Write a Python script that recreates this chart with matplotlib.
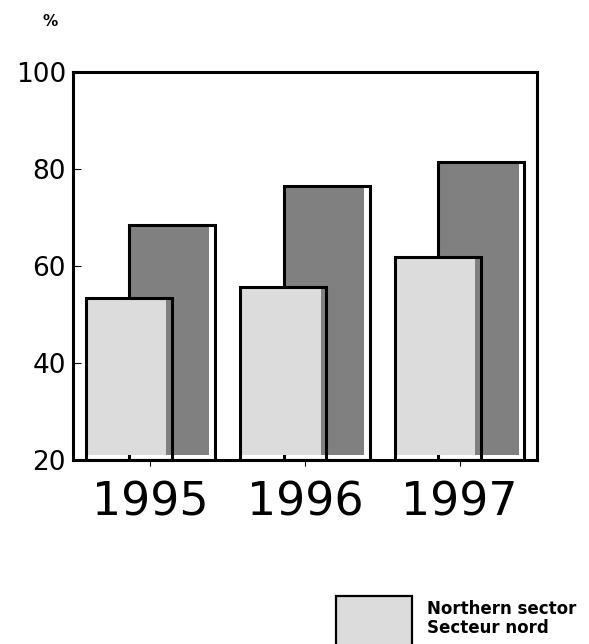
import matplotlib
matplotlib.use("Agg")
import matplotlib.pyplot as plt
from matplotlib.patches import Rectangle

# data
years = ["1995", "1996", "1997"]
northern = [53.4, 55.6, 61.9]   # light bars (front)
other = [68.4, 76.5, 81.4]      # dark bars (back)
y_ticks = [20, 40, 60, 80, 100]

light = "#dcdcdc"
dark = "#808080"

fig = plt.figure(figsize=(5.89, 6.44), dpi=100)
ax = fig.add_axes([73 / 589, 1 - 460 / 644, 464 / 589, 388 / 644])

width = 0.556
offset = 0.14
inset_x = 0.036
inset_y = 1.05
base = 20
centers = [i + 0.5 for i in range(len(years))]


def draw_bars(xs, vals, color, z):
    lefts = [x - width / 2 for x in xs]
    # fill, pulled in from the right and bottom
    ax.bar(lefts, [v - base - inset_y for v in vals], width=width - inset_x,
           bottom=base + inset_y, align="edge", color=color, linewidth=0, zorder=z)
    # outline
    ax.bar(lefts, [v - base for v in vals], width=width, bottom=base,
           align="edge", fill=False, edgecolor="black", linewidth=2.2, zorder=z + 0.5)


draw_bars([c + offset for c in centers], other, dark, 2)
draw_bars([c - offset for c in centers], northern, light, 4)

ax.set_xlim(0, 3)
ax.set_ylim(20, 100)
ax.set_yticks(y_ticks)
ax.set_xticks(centers)
ax.set_xticklabels(years)

for s in ax.spines.values():
    s.set_linewidth(2.2)
    s.set_zorder(10)

ax.tick_params(axis="y", direction="in", length=6, width=0.8, pad=5, labelsize=19)
ax.tick_params(axis="x", direction="out", length=4, width=0.8, pad=11, labelsize=33)
for lab in ax.get_xticklabels() + ax.get_yticklabels():
    lab.set_fontfamily("DejaVu Sans")

fig.text(50 / 589, 1 - 22 / 644, "%", fontsize=11, fontweight="bold",
         ha="center", va="center", family="DejaVu Sans")

# legend (only the first entry is visible in the frame)
fig.patches.append(Rectangle((336 / 589, 1 - 660 / 644), 76 / 589, 64 / 644,
                             transform=fig.transFigure, facecolor=light,
                             edgecolor="black", linewidth=1.6))
fig.text(427 / 589, 1 - 609 / 644, "Northern sector", fontsize=12, fontweight="bold",
         ha="left", va="center", family="DejaVu Sans")
fig.text(427 / 589, 1 - 628 / 644, "Secteur nord", fontsize=12, fontweight="bold",
         ha="left", va="center", family="DejaVu Sans")

fig.savefig("out.png", dpi=100)
